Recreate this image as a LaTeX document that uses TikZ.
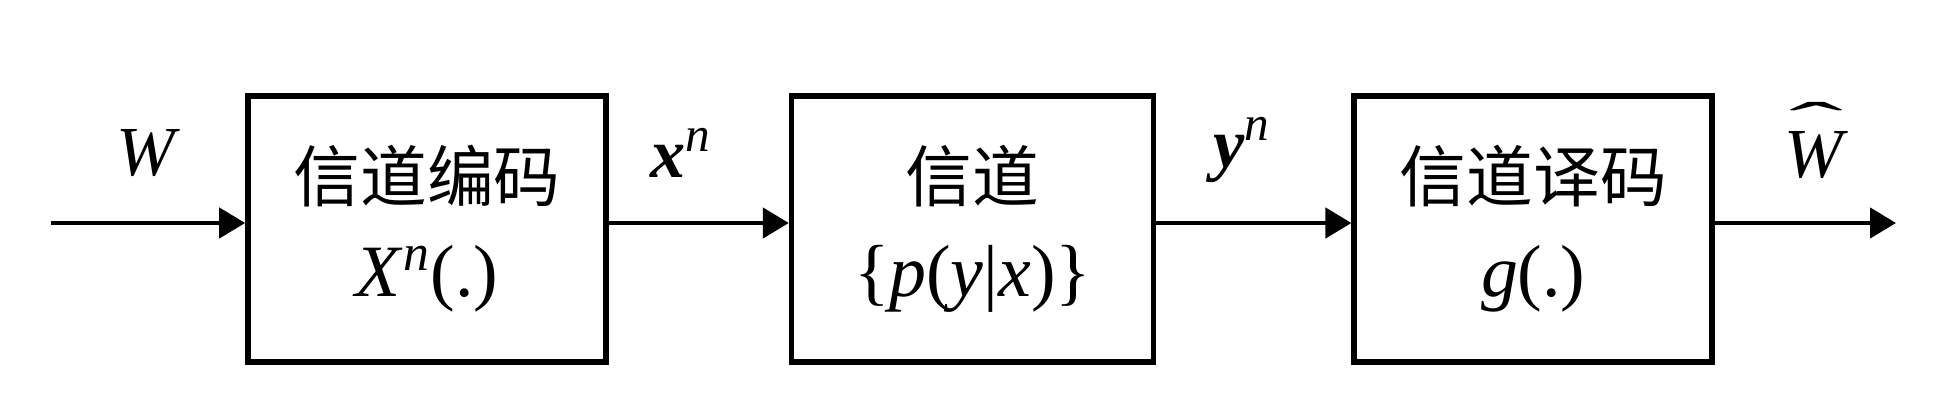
\documentclass[tikz,border=0pt]{standalone}
\usepackage{fontspec}
\setmainfont{Liberation Serif}
\newfontfamily\cjk{Noto Sans CJK SC}
\usetikzlibrary{arrows.meta}
\usetikzlibrary{positioning}
\tikzset{
	block/.style={draw, line width=1.6pt, minimum width=3.58cm, minimum height=2.66cm, align=center, inner sep=0pt, font=\fontsize{21}{27}\selectfont},
	signal/.style={-{Triangle[length=0.26cm, width=0.30cm]}, line width=1.3pt},
	sig label/.style={font=\fontsize{20}{24}\selectfont, inner sep=0pt},
}
\newcommand{\hatW}{\ooalign{\textit{W}\cr\hidewidth\raisebox{0.52em}{\scalebox{2.3}[0.8]{\char"02C6}}\hidewidth\cr}}
\newcommand{\boxcjk}[1]{{\fontsize{19}{27}\selectfont\cjk #1}}

\begin{document}
\begin{tikzpicture}
	\useasboundingbox (0,0) rectangle (19.38,-4.10);

	\node[block] (enc) at (4.27,-2.29) {\boxcjk{信道编码}\\\textit{X}\textsuperscript{\textit{n}}(.)};
	\node[block, minimum width=3.62cm, right=1.80cm of enc] (chan) {\boxcjk{信道}\\\{\textit{p}(\textit{y}|\textit{x})\}};
	\node[block, right=1.95cm of chan] (dec) {\boxcjk{信道译码}\\\textit{g}(.)};

	\coordinate (src) at (0.51,-2.23);
	\coordinate (sink) at (18.96,-2.23);
	\draw[signal] (src) -- (src -| enc.west);
	\draw[signal] (enc.east |- src) -- (src -| chan.west);
	\draw[signal] (chan.east |- src) -- (src -| dec.west);
	\draw[signal] (dec.east |- src) -- (sink);

	\node[sig label] (w) at (1.48,-1.53) {\textit{W}};
	\node[sig label] (xn) at (6.81,-1.53) {\textbf{\textit{x}}\textsuperscript{\textit{n}}};
	\node[sig label] (yn) at (12.42,-1.50) {\textbf{\textit{y}}\textsuperscript{\textit{n}}};
	\node[sig label, anchor=base] (what) at (18.16,-1.78) {\hatW};
\end{tikzpicture}
\end{document}
